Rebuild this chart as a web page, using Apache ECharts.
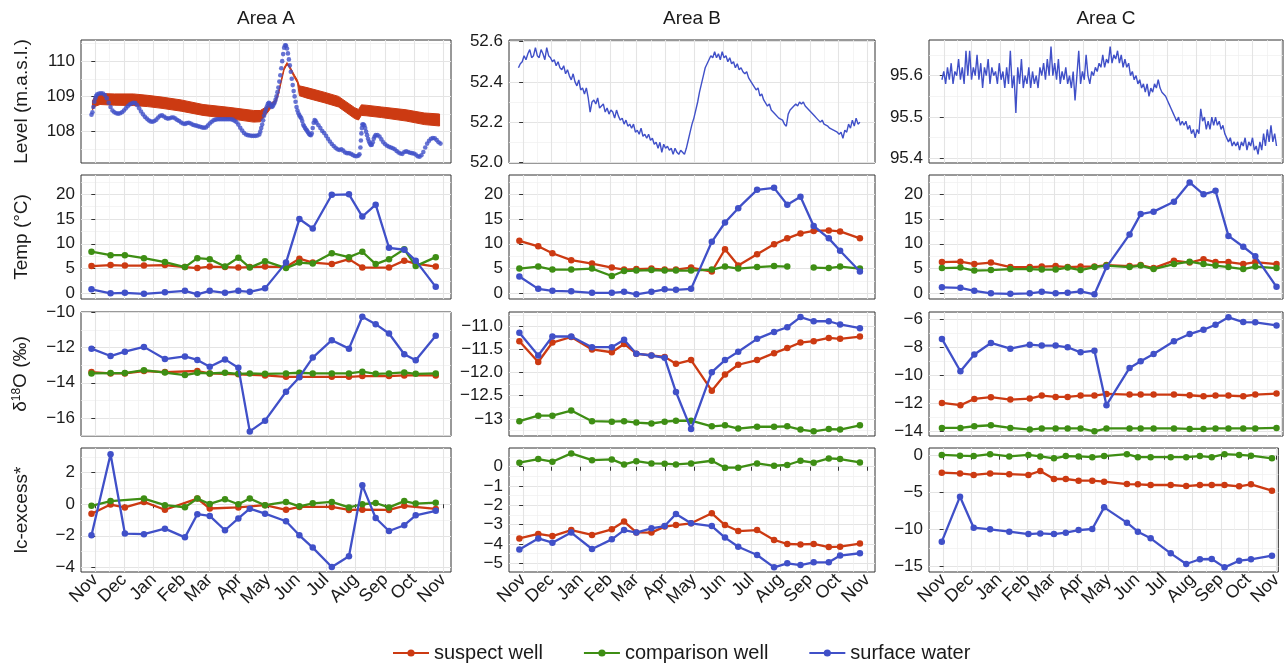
<!DOCTYPE html>
<html>
<head>
<meta charset="utf-8">
<script src="https://cdn.jsdelivr.net/npm/echarts@6/dist/echarts.min.js"></script>
<style>
  html, body { margin: 0; padding: 0; background: #ffffff; }
  #chart { width: 1285px; height: 663px; }
</style>
</head>
<body>
<div id="chart"></div>
<script>
// ---------------------------------------------------------------------------
// Data
// ---------------------------------------------------------------------------
const seriesNames = ['suspect well', 'comparison well', 'surface water'];
const areaNames = ['Area A', 'Area B', 'Area C'];
const monthLabels = ['Nov', 'Dec', 'Jan', 'Feb', 'Mar', 'Apr', 'May', 'Jun', 'Jul', 'Aug', 'Sep', 'Oct', 'Nov'];
const monthStarts = ['2018-11-01', '2018-12-01', '2019-01-01', '2019-02-01', '2019-03-01', '2019-04-01',
  '2019-05-01', '2019-06-01', '2019-07-01', '2019-08-01', '2019-09-01', '2019-10-01', '2019-11-01'];
// time window shown in each column (A, B, C)
const xLimits = [['2018-10-17', '2019-11-09'], ['2018-10-17', '2019-11-09'], ['2018-10-16', '2019-11-03']];

// sampling campaigns
const sampleDatesAB = ['2018-10-28', '2018-11-17', '2018-12-02', '2018-12-22', '2019-01-13', '2019-02-03',
  '2019-02-16', '2019-03-01', '2019-03-17', '2019-03-31', '2019-04-12', '2019-04-28', '2019-05-20',
  '2019-06-03', '2019-06-17', '2019-07-07', '2019-07-25', '2019-08-08', '2019-08-22', '2019-09-05',
  '2019-09-21', '2019-10-03', '2019-10-24'];
const sampleDatesC = ['2018-10-30', '2018-11-19', '2018-12-04', '2018-12-22', '2019-01-12', '2019-02-02',
  '2019-02-15', '2019-03-02', '2019-03-15', '2019-03-29', '2019-04-13', '2019-04-26', '2019-05-21',
  '2019-06-02', '2019-06-16', '2019-07-08', '2019-07-25', '2019-08-09', '2019-08-22', '2019-09-05',
  '2019-09-21', '2019-10-04', '2019-10-27'];

// Temperature (°C)
const tempA_suspect    = [5.5, 5.7, 5.6, 5.6, 5.7, 5.3, 5.1, 5.4, 5.3, 5.2, 5.3, 5.4, 5.3, 7.0, 6.2, 5.9, 6.9, 5.2, null, 5.2, 6.6, 6.0, 5.4];
const tempA_comparison = [8.4, 7.7, 7.7, 7.1, 6.3, 5.3, 7.1, 6.9, 5.4, 7.2, 5.2, 6.5, 5.1, 6.2, 6.0, 8.1, 7.3, 8.4, 5.9, 6.9, 8.9, 5.5, 7.3];
const tempA_surface    = [0.8, 0.0, 0.1, -0.1, 0.2, 0.5, -0.2, 0.5, 0.1, 0.5, 0.3, 1.0, 6.2, 15.0, 13.1, 19.9, 20.0, 15.5, 17.9, 9.2, 8.8, 6.6, 1.3];
const tempB_suspect    = [10.6, 9.5, 8.1, 6.7, 6.0, 5.2, 4.8, 4.9, 5.0, 4.8, 4.8, 5.2, 4.4, 8.9, 5.6, 7.9, 9.9, 11.1, 12.1, 12.6, 12.7, 12.5, 11.1];
const tempB_comparison = [5.0, 5.4, 4.8, 4.8, 5.0, 3.5, 4.5, 4.6, 4.7, 4.6, 4.6, 4.6, 4.8, 5.4, 5.0, 5.3, 5.5, 5.4, null, 5.2, 5.1, 5.4, 5.0];
const tempB_surface    = [3.4, 0.9, 0.5, 0.4, 0.1, 0.1, 0.3, -0.2, 0.3, 0.8, 0.7, 0.9, 10.4, 14.3, 17.2, 20.9, 21.3, 17.9, 19.5, 13.6, 11.1, 8.6, 4.4];
const tempC_suspect    = [6.3, 6.4, 5.9, 6.2, 5.3, 5.3, 5.4, 5.5, 5.3, 5.4, 5.4, 5.7, 5.5, 5.7, 5.1, 6.6, 6.2, 6.9, 6.3, 6.3, 5.9, 6.3, 5.9];
const tempC_comparison = [5.1, 5.2, 4.6, 4.7, 4.9, 4.9, 4.8, 4.8, 5.2, 4.7, 5.3, 5.6, 5.3, 5.6, 4.9, 5.9, 6.4, 5.9, 5.6, 5.3, 4.9, 5.4, 5.1];
const tempC_surface    = [1.2, 1.1, 0.5, 0.0, -0.1, 0.0, 0.3, 0.0, 0.1, 0.4, -0.2, 5.3, 11.9, 16.0, 16.5, 18.5, 22.4, 20.0, 20.7, 11.6, 9.4, 7.5, 1.3];

// δ18O (‰)
const d18oA_suspect    = [-13.39, -13.47, -13.47, -13.33, -13.39, null, -13.33, -13.47, null, -13.52, null, -13.58, -13.66, -13.66, null, -13.66, -13.66, -13.62, null, -13.62, -13.58, null, -13.58];
const d18oA_comparison = [-13.47, -13.45, -13.45, -13.28, -13.42, -13.56, -13.43, -13.47, -13.43, -13.49, -13.47, -13.49, -13.47, -13.43, -13.47, -13.47, -13.47, -13.37, -13.49, -13.47, -13.41, -13.49, -13.47];
const d18oA_surface    = [-12.06, -12.48, -12.23, -11.96, -12.65, -12.5, -12.7, -13.09, -12.67, -13.14, -16.76, -16.15, -14.51, -13.68, -12.57, -11.58, -12.06, -10.25, -10.67, -11.2, -12.38, -12.72, -11.33];
const d18oB_suspect    = [-11.32, -11.77, -11.35, -11.23, -11.5, -11.56, -11.38, -11.59, -11.63, -11.66, -11.81, -11.73, -12.39, -12.04, -11.83, -11.73, -11.58, -11.47, -11.35, -11.32, -11.25, -11.27, -11.22];
const d18oB_comparison = [-13.05, -12.93, -12.93, -12.82, -13.05, -13.06, -13.05, -13.08, -13.1, -13.06, -13.04, -13.04, -13.16, -13.14, -13.21, -13.17, -13.17, -13.16, -13.23, -13.27, -13.22, -13.23, -13.14];
const d18oB_surface    = [-11.14, -11.63, -11.22, -11.22, -11.45, -11.45, -11.29, -11.59, -11.63, -11.68, -12.42, -13.22, -11.99, -11.73, -11.55, -11.27, -11.12, -11.02, -10.8, -10.89, -10.89, -10.96, -11.04];
const d18oC_suspect    = [-11.97, -12.13, -11.68, -11.56, -11.73, -11.66, -11.44, -11.54, -11.54, -11.44, -11.44, -11.32, -11.37, -11.37, -11.37, -11.37, -11.42, -11.49, -11.44, -11.44, -11.49, -11.37, -11.3];
const d18oC_comparison = [-13.76, -13.76, -13.64, -13.57, -13.76, -13.88, -13.8, -13.8, -13.8, -13.8, -14.0, -13.8, -13.8, -13.8, -13.8, -13.8, -13.83, -13.83, -13.8, -13.8, -13.8, -13.8, -13.76];
const d18oC_surface    = [-7.38, -9.7, -8.5, -7.67, -8.08, -7.79, -7.86, -7.86, -7.98, -8.34, -8.22, -12.13, -9.46, -8.98, -8.46, -7.55, -7.03, -6.72, -6.36, -5.83, -6.17, -6.19, -6.41];

// lc-excess* (‰)
const lcA_suspect    = [-0.6, -0.02, -0.2, 0.15, -0.35, null, 0.36, -0.27, null, -0.2, null, -0.06, -0.35, -0.17, null, -0.17, -0.36, -0.35, null, -0.36, -0.1, null, -0.3];
const lcA_comparison = [-0.1, 0.2, null, 0.36, -0.06, -0.19, 0.36, 0.02, 0.32, 0.0, 0.36, -0.06, 0.15, -0.13, 0.06, 0.15, -0.2, 0.0, 0.08, -0.2, 0.2, 0.04, 0.1];
const lcA_surface    = [-1.97, 3.17, -1.86, -1.9, -1.55, -2.1, -0.63, -0.74, -1.65, -0.9, -0.28, -0.6, -1.08, -1.97, -2.75, -3.98, -3.3, 1.2, -0.87, -1.7, -1.33, -0.7, -0.42];
const lcB_suspect    = [-3.71, -3.48, -3.59, -3.28, -3.53, -3.24, -2.84, -3.4, -3.41, -3.1, -3.02, -2.93, -2.41, -3.02, -3.33, -3.28, -3.79, -4.0, -4.02, -4.0, -4.16, -4.14, -3.98];
const lcB_comparison = [0.21, 0.4, 0.26, 0.69, 0.34, 0.38, 0.12, 0.29, 0.17, 0.16, 0.12, 0.17, 0.31, -0.05, -0.05, 0.17, 0.05, 0.09, 0.31, 0.21, 0.43, 0.4, 0.22];
const lcB_surface    = [-4.28, -3.71, -3.93, -3.41, -4.26, -3.76, -3.28, -3.41, -3.19, -3.07, -2.45, -2.93, -3.07, -3.67, -4.14, -4.57, -5.21, -5.0, -5.09, -4.95, -4.95, -4.6, -4.48];
const lcC_suspect    = [-2.3, -2.4, -2.6, -2.4, -2.5, -2.6, -2.07, -3.15, -3.15, -3.38, -3.38, -3.51, -3.83, -3.87, -3.96, -3.96, -4.1, -3.96, -3.96, -3.96, -4.14, -3.87, -4.73];
const lcC_comparison = [0.1, 0.0, -0.05, 0.2, -0.1, 0.1, -0.1, -0.36, -0.05, -0.1, -0.2, -0.05, 0.2, -0.2, -0.2, -0.2, -0.2, -0.05, -0.2, 0.2, 0.1, 0.0, -0.36];
const lcC_surface    = [-11.62, -5.54, -9.73, -9.95, -10.27, -10.59, -10.5, -10.59, -10.41, -10.05, -9.91, -6.98, -9.05, -10.27, -11.17, -13.2, -14.64, -14.0, -13.96, -15.09, -14.19, -14.0, -13.51];

// Level (m a.s.l.) — day numbers count from 1 Nov 2018
// Area A, suspect well: envelope of the logger record
const levelA_suspectDays = [-3, 0, 5, 20, 40, 55, 70, 90, 113, 140, 166, 173, 178, 184, 189, 192, 195, 198, 201, 203,
  206, 209, 212, 214, 222, 240, 255, 272, 276, 279, 284, 300, 326, 345, 361];
const levelA_suspectLow = [108.62, 108.72, 108.77, 108.75, 108.74, 108.71, 108.66, 108.58, 108.46, 108.37, 108.27, 108.28,
  108.45, 108.66, 108.8, 109.05, 109.4, 109.75, 109.9, 109.84, 109.68, 109.52, 109.38, 109.02, 108.95, 108.82, 108.7,
  108.37, 108.33, 108.46, 108.45, 108.4, 108.3, 108.2, 108.16];
const levelA_suspectHigh = [108.88, 109.0, 109.08, 109.07, 109.07, 109.03, 108.98, 108.9, 108.77, 108.69, 108.6, 108.6,
  108.68, 108.8, 108.9, 109.13, 109.47, 109.82, 109.96, 109.9, 109.75, 109.6, 109.46, 109.3, 109.25, 109.12, 109.0,
  108.68, 108.63, 108.76, 108.75, 108.7, 108.62, 108.53, 108.5];
// Area A, surface water: [day, level]
const levelA_surface = [[-4,108.48],[-3,108.55],[-2,108.7],[-1,108.85],[0,108.95],[1,109.02],[2,109.06],[4,109.08],[6,109.09],
  [8,109.08],[10,109.04],[12,108.95],[14,108.82],[16,108.7],[18,108.6],[20,108.55],[22,108.52],[24,108.51],[26,108.52],
  [28,108.55],[30,108.6],[32,108.66],[34,108.72],[36,108.77],[38,108.8],[40,108.82],[42,108.81],[44,108.75],[46,108.66],
  [48,108.57],[50,108.49],[52,108.42],[54,108.37],[56,108.32],[58,108.29],[60,108.28],[62,108.3],[64,108.34],[66,108.4],
  [68,108.45],[70,108.46],[72,108.43],[74,108.39],[76,108.37],[78,108.38],[80,108.4],[82,108.4],[84,108.37],[86,108.33],
  [88,108.3],[90,108.26],[92,108.23],[94,108.22],[96,108.24],[98,108.25],[100,108.23],[102,108.2],[104,108.18],[106,108.17],
  [108,108.15],[110,108.14],[112,108.12],[114,108.11],[116,108.12],[118,108.17],[120,108.23],[122,108.28],[124,108.32],
  [126,108.34],[128,108.35],[130,108.35],[132,108.35],[134,108.35],[136,108.35],[138,108.35],[140,108.35],[142,108.35],
  [144,108.34],[146,108.31],[148,108.27],[150,108.2],[152,108.11],[154,108.03],[156,107.96],[158,107.92],[160,107.9],
  [162,107.89],[164,107.88],[166,107.88],[168,107.88],[170,107.89],[172,107.92],[173,108.0],[174,108.1],[175,108.2],
  [176,108.32],[177,108.45],[178,108.55],[179,108.64],[180,108.72],[181,108.79],[182,108.82],[183,108.8],[184,108.74],
  [185,108.7],[186,108.72],[187,108.77],[188,108.82],[189,108.9],[190,109.0],[191,109.12],[192,109.25],[193,109.42],
  [194,109.6],[195,109.8],[196,110.0],[197,110.2],[198,110.38],[199,110.45],[200,110.44],[201,110.36],[202,110.22],
  [203,110.05],[204,109.88],[205,109.7],[206,109.5],[207,109.32],[208,109.15],[209,109.0],[210,108.85],[211,108.7],
  [212,108.6],[213,108.52],[214,108.46],[215,108.42],[216,108.38],[217,108.3],[218,108.2],[219,108.15],[220,108.1],
  [221,108.06],[222,108.03],[223,107.98],[224,107.94],[225,107.91],[226,107.9],[227,107.95],[228,108.1],[229,108.25],
  [230,108.33],[231,108.3],[232,108.25],[234,108.18],[236,108.1],[238,108.02],[240,107.96],[242,107.88],[244,107.8],
  [246,107.72],[248,107.65],[250,107.59],[252,107.54],[254,107.5],[256,107.48],[258,107.5],[260,107.46],[262,107.41],
  [264,107.39],[266,107.39],[268,107.37],[270,107.34],[272,107.31],[274,107.3],[276,107.32],[277,107.36],[278,107.55],
  [278.5,107.75],[279,107.95],[279.5,108.1],[280,108.2],[281,108.21],[282,108.18],[283,108.1],[284,108.0],[285,107.9],
  [286,107.8],[287,107.72],[288,107.66],[289,107.62],[290,107.63],[291,107.7],[292,107.8],[293,107.86],[294,107.9],
  [296,107.9],[298,107.86],[300,107.78],[302,107.7],[304,107.64],[306,107.6],[308,107.57],[310,107.55],[312,107.53],
  [314,107.5],[316,107.45],[318,107.41],[320,107.38],[322,107.37],[324,107.42],[326,107.44],[328,107.42],[330,107.4],
  [332,107.39],[334,107.38],[336,107.35],[338,107.3],[340,107.29],[342,107.33],[344,107.42],[346,107.55],[348,107.66],
  [350,107.74],[352,107.8],[354,107.82],[356,107.81],[358,107.76],[360,107.7],[362,107.66]];

// Area B and C surface water loggers, one reading every second day
const levelB_start = '2018-10-27';
const levelB_surface = [
  52.47, 52.49, 52.50, 52.53, 52.51, 52.54, 52.56, 52.52, 52.53, 52.57,
  52.53, 52.52, 52.56, 52.54, 52.51, 52.57, 52.53, 52.52, 52.50, 52.51,
  52.48, 52.50, 52.47, 52.46, 52.48, 52.44, 52.46, 52.43, 52.41, 52.44,
  52.40, 52.38, 52.41, 52.36, 52.37, 52.34, 52.37, 52.32, 52.25, 52.30,
  52.31, 52.29, 52.32, 52.27, 52.28, 52.29, 52.25, 52.27, 52.24, 52.26,
  52.25, 52.22, 52.26, 52.23, 52.21, 52.22, 52.19, 52.21, 52.18, 52.19,
  52.17, 52.19, 52.15, 52.16, 52.14, 52.17, 52.13, 52.14, 52.12, 52.14,
  52.11, 52.12, 52.09, 52.10, 52.07, 52.10, 52.05, 52.09, 52.07, 52.08,
  52.06, 52.07, 52.04, 52.07, 52.05, 52.04, 52.06, 52.05, 52.04, 52.07,
  52.11, 52.15, 52.19, 52.22, 52.26, 52.30, 52.35, 52.39, 52.43, 52.47,
  52.49, 52.51, 52.53, 52.52, 52.55, 52.52, 52.54, 52.51, 52.55, 52.52,
  52.53, 52.50, 52.52, 52.49, 52.50, 52.47, 52.49, 52.46, 52.47, 52.45,
  52.44, 52.45, 52.42, 52.42, 52.39, 52.39, 52.36, 52.37, 52.33, 52.34,
  52.31, 52.31, 52.28, 52.29, 52.26, 52.26, 52.24, 52.24, 52.22, 52.22,
  52.21, 52.19, 52.18, 52.24, 52.26, 52.27, 52.28, 52.29, 52.28, 52.30,
  52.29, 52.30, 52.28, 52.28, 52.26, 52.25, 52.24, 52.23, 52.22, 52.22,
  52.20, 52.21, 52.19, 52.19, 52.18, 52.17, 52.17, 52.16, 52.16, 52.15,
  52.14, 52.15, 52.12, 52.16, 52.15, 52.19, 52.17, 52.21, 52.18, 52.22,
  52.19, 52.20];
const levelC_start = '2018-10-30';
const levelC_surface = [
  95.59, 95.61, 95.58, 95.62, 95.59, 95.63, 95.58, 95.61, 95.60, 95.64,
  95.59, 95.62, 95.58, 95.66, 95.60, 95.66, 95.59, 95.62, 95.60, 95.65,
  95.59, 95.63, 95.57, 95.62, 95.60, 95.64, 95.58, 95.62, 95.60, 95.61,
  95.58, 95.63, 95.59, 95.61, 95.57, 95.62, 95.58, 95.66, 95.57, 95.60,
  95.51, 95.62, 95.58, 95.64, 95.57, 95.60, 95.58, 95.62, 95.57, 95.61,
  95.58, 95.60, 95.57, 95.62, 95.60, 95.63, 95.59, 95.64, 95.60, 95.67,
  95.60, 95.63, 95.59, 95.64, 95.58, 95.61, 95.59, 95.62, 95.58, 95.60,
  95.57, 95.61, 95.54, 95.60, 95.66, 95.58, 95.61, 95.59, 95.65, 95.60,
  95.58, 95.61, 95.60, 95.62, 95.61, 95.63, 95.62, 95.65, 95.62, 95.64,
  95.63, 95.67, 95.63, 95.65, 95.64, 95.66, 95.63, 95.65, 95.62, 95.64,
  95.62, 95.63, 95.60, 95.61, 95.59, 95.60, 95.58, 95.59, 95.57, 95.58,
  95.56, 95.58, 95.55, 95.57, 95.56, 95.58, 95.57, 95.59, 95.57, 95.56,
  95.56, 95.55, 95.54, 95.53, 95.52, 95.51, 95.50, 95.49, 95.50, 95.48,
  95.49, 95.48, 95.49, 95.47, 95.48, 95.46, 95.47, 95.45, 95.47, 95.46,
  95.52, 95.49, 95.50, 95.47, 95.49, 95.47, 95.50, 95.48, 95.50, 95.48,
  95.49, 95.47, 95.48, 95.46, 95.46, 95.44, 95.45, 95.43, 95.44, 95.43,
  95.44, 95.42, 95.44, 95.43, 95.45, 95.42, 95.44, 95.43, 95.45, 95.42,
  95.43, 95.41, 95.44, 95.42, 95.46, 95.43, 95.47, 95.44, 95.48, 95.44,
  95.46, 95.43];
const levelStepDays = 2;

// Axis titles and per-panel y scales (rows: level, temp, δ18O, lc-excess; columns: A, B, C)
const rowTitles = ['Level (m.a.s.l.)', 'Temp (°C)', '{t|δ}{s|18}{t|O (‰)}', 'lc-excess*'];
const yScales = [
  [{ min: 107.11, max: 110.6, ticks: [108, 109, 110], labels: ['108', '109', '110'] },
   { min: 51.997, max: 52.608, ticks: [52.0, 52.2, 52.4, 52.6], labels: ['52.0', '52.2', '52.4', '52.6'] },
   { min: 95.389, max: 95.686, ticks: [95.4, 95.5, 95.6], labels: ['95.4', '95.5', '95.6'] }],
  [{ min: -1.15, max: 23.9, ticks: [0, 5, 10, 15, 20], labels: ['0', '5', '10', '15', '20'] },
   { min: -1.15, max: 23.9, ticks: [0, 5, 10, 15, 20], labels: ['0', '5', '10', '15', '20'] },
   { min: -1.15, max: 23.9, ticks: [0, 5, 10, 15, 20], labels: ['0', '5', '10', '15', '20'] }],
  [{ min: -17.02, max: -9.98, ticks: [-16, -14, -12, -10], labels: ['\u221216', '\u221214', '\u221212', '\u221210'] },
   { min: -13.37, max: -10.69, ticks: [-13, -12.5, -12, -11.5, -11], labels: ['\u221213', '\u221212.5', '\u221212.0', '\u221211.5', '\u221211.0'] },
   { min: -14.34, max: -5.45, ticks: [-14, -12, -10, -8, -6], labels: ['\u221214', '\u221212', '\u221210', '\u22128', '\u22126'] }],
  [{ min: -4.3, max: 3.57, ticks: [-4, -2, 0, 2], labels: ['\u22124', '\u22122', '0', '2'] },
   { min: -5.45, max: 0.97, ticks: [-5, -4, -3, -2, -1, 0], labels: ['\u22125', '\u22124', '\u22123', '\u22122', '\u22121', '0'] },
   { min: -15.72, max: 1.04, ticks: [-15, -10, -5, 0], labels: ['\u221215', '\u221210', '\u22125', '0'] }]
];

const samples = [
  null,
  [[tempA_suspect, tempA_comparison, tempA_surface], [tempB_suspect, tempB_comparison, tempB_surface], [tempC_suspect, tempC_comparison, tempC_surface]],
  [[d18oA_suspect, d18oA_comparison, d18oA_surface], [d18oB_suspect, d18oB_comparison, d18oB_surface], [d18oC_suspect, d18oC_comparison, d18oC_surface]],
  [[lcA_suspect, lcA_comparison, lcA_surface], [lcB_suspect, lcB_comparison, lcB_surface], [lcC_suspect, lcC_comparison, lcC_surface]]
];
const sampleDates = [sampleDatesAB, sampleDatesAB, sampleDatesC];

// ---------------------------------------------------------------------------
// Styling and layout
// ---------------------------------------------------------------------------
const FONT = '"Liberation Sans", Arial, Helvetica, sans-serif';
const TEXT = '#1a1a1a';
const COLORS = ['#CC3A12', '#3E8E14', '#4050C8'];
const GRID_MAJOR = '#E4E4E4';
const GRID_MINOR = '#EFEFEF';
const BORDER = '#333333';
const TICK_FONT = 17;
const TITLE_FONT = 19;

const colLeft = [81, 509, 929];
const colWidth = [370, 366, 354];
const rowTop = [40, 175, 312, 448];
const rowHeight = [123, 124, 124, 124];

const DAY0 = Date.UTC(2018, 10, 1);
const toDay = s => (Date.UTC(+s.slice(0, 4), +s.slice(5, 7) - 1, +s.slice(8, 10)) - DAY0) / 86400000;

const monthDays = monthStarts.map(toDay);
const midMonthDays = monthDays.slice(1).map((d, i) => (d + monthDays[i]) / 2);

function minorOf(ticks, min, max) {
  const step = ticks.length > 1 ? ticks[1] - ticks[0] : 1;
  const out = [];
  for (let i = -1; i < ticks.length; i++) {
    const v = ticks[0] + (i + 0.5) * step;
    if (v > min && v < max) out.push(v);
  }
  return out;
}
function labelFor(ticks, labels) {
  return v => {
    let best = 0;
    ticks.forEach((t, i) => { if (Math.abs(t - v) < Math.abs(ticks[best] - v)) best = i; });
    return labels[best];
  };
}
function monthLabel(v) {
  let best = 0;
  monthDays.forEach((t, i) => { if (Math.abs(t - v) < Math.abs(monthDays[best] - v)) best = i; });
  return monthLabels[best];
}

const grids = [], xAxes = [], yAxes = [], series = [];
const levelAxes = [];

for (let r = 0; r < 4; r++) {
  for (let c = 0; c < 3; c++) {
    const g = grids.length;
    const xMin = toDay(xLimits[c][0]);
    const xMax = toDay(xLimits[c][1]);
    grids.push({
      left: colLeft[c], top: rowTop[r], width: colWidth[c], height: rowHeight[r],
      show: true, backgroundColor: '#ffffff', borderColor: BORDER, borderWidth: 1, containLabel: false
    });
    const bottomRow = r === 3;
    const xi = xAxes.length;
    xAxes.push({
      type: 'value', gridIndex: g, min: xMin, max: xMax, position: 'bottom',
      axisLine: { show: false },
      axisTick: { show: bottomRow, customValues: monthDays, length: 4, lineStyle: { color: BORDER, width: 1 } },
      axisLabel: { show: bottomRow, customValues: monthDays, formatter: monthLabel, rotate: 45, margin: 5,
        fontSize: 18, color: TEXT, fontFamily: FONT },
      splitLine: { show: true, lineStyle: { color: GRID_MAJOR, width: 1.1 } }
    });
    xAxes.push({
      type: 'value', gridIndex: g, min: xMin, max: xMax, position: 'top',
      axisLine: { show: false },
      axisTick: { show: false, customValues: midMonthDays },
      axisLabel: { show: false, customValues: midMonthDays },
      splitLine: { show: true, lineStyle: { color: GRID_MINOR, width: 0.7 } }
    });
    const sc = yScales[r][c];
    const yi = yAxes.length;
    const yMain = {
      type: 'value', gridIndex: g, min: sc.min, max: sc.max, position: 'left',
      axisLine: { show: false },
      axisTick: { show: true, customValues: sc.ticks, length: 4, lineStyle: { color: BORDER, width: 1 } },
      axisLabel: { show: true, customValues: sc.ticks, formatter: labelFor(sc.ticks, sc.labels), margin: 6,
        fontSize: TICK_FONT, color: TEXT, fontFamily: FONT },
      splitLine: { show: true, lineStyle: { color: GRID_MAJOR, width: 1.1 } }
    };
    if (c === 0) {
      Object.assign(yMain, {
        name: rowTitles[r], nameLocation: 'middle', nameGap: 50, nameRotate: 90,
        nameTextStyle: {
          fontSize: TITLE_FONT, color: TEXT, fontFamily: FONT,
          rich: {
            t: { fontSize: TITLE_FONT, color: TEXT, fontFamily: FONT },
            s: { fontSize: 12, color: TEXT, fontFamily: FONT, padding: [0, 0, 8, 0] }
          }
        }
      });
    }
    yAxes.push(yMain);
    const minor = minorOf(sc.ticks, sc.min, sc.max);
    yAxes.push({
      type: 'value', gridIndex: g, min: sc.min, max: sc.max, position: 'right',
      axisLine: { show: false },
      axisTick: { show: false, customValues: minor },
      axisLabel: { show: false, customValues: minor },
      splitLine: { show: true, lineStyle: { color: GRID_MINOR, width: 0.7 } }
    });

    if (r === 0) {
      levelAxes.push({ xi, yi });
      continue;
    }
    const vals = samples[r][c];
    const dates = sampleDates[c].map(toDay);
    seriesNames.forEach((name, k) => {
      const gapped = (r === 1 && c === 1 && k === 1);
      series.push({
        type: 'line', name, xAxisIndex: xi, yAxisIndex: yi,
        data: dates.map((d, i) => [d, vals[k][i] === null ? '-' : vals[k][i]]),
        connectNulls: !gapped,
        symbol: 'circle', symbolSize: 6.5, showSymbol: true,
        lineStyle: { width: 2.3, color: COLORS[k] },
        itemStyle: { color: COLORS[k] },
        emphasis: { disabled: true },
        z: 2 + k
      });
    });
  }
}

// Level row
const [axA, axB, axC] = levelAxes;
// suspect-well logger band: one polygon between the low and high envelopes
series.push({
  type: 'custom', name: 'suspect well logger', xAxisIndex: axA.xi, yAxisIndex: axA.yi,
  data: levelA_suspectDays.map((d, i) => [d, levelA_suspectLow[i], levelA_suspectHigh[i]]),
  encode: { x: 0, y: [1, 2] },
  clip: true, silent: true, z: 2,
  renderItem: (params, api) => {
    if (params.dataIndex !== 0) return null;
    const upper = levelA_suspectDays.map((d, i) => api.coord([d, levelA_suspectHigh[i]]));
    const lower = levelA_suspectDays.map((d, i) => api.coord([d, levelA_suspectLow[i]])).reverse();
    return {
      type: 'polygon',
      shape: { points: upper.concat(lower) },
      style: { fill: COLORS[0], stroke: COLORS[0], lineWidth: 1 }
    };
  }
});
series.push({
  type: 'scatter', name: 'surface water logger', xAxisIndex: axA.xi, yAxisIndex: axA.yi,
  data: levelA_surface, symbol: 'circle', symbolSize: 4.6,
  itemStyle: { color: COLORS[2] }, emphasis: { disabled: true }, silent: true, z: 4
});
series.push({
  type: 'line', name: 'surface water logger', xAxisIndex: axB.xi, yAxisIndex: axB.yi,
  data: levelB_surface.map((v, i) => [toDay(levelB_start) + i * levelStepDays, v]),
  symbol: 'none', lineStyle: { width: 1.4, color: COLORS[2] }, emphasis: { disabled: true }, silent: true, z: 4
});
series.push({
  type: 'line', name: 'surface water logger', xAxisIndex: axC.xi, yAxisIndex: axC.yi,
  data: levelC_surface.map((v, i) => [toDay(levelC_start) + i * levelStepDays, v]),
  symbol: 'none', lineStyle: { width: 1.4, color: COLORS[2] }, emphasis: { disabled: true }, silent: true, z: 4
});

const titles = areaNames.map((name, c) => ({
  type: 'text', x: colLeft[c] + colWidth[c] / 2, y: 19,
  style: { text: name, font: TITLE_FONT + 'px ' + FONT, fill: TEXT, textAlign: 'center', textVerticalAlign: 'middle' }
}));

const chart = echarts.init(document.getElementById('chart'), null, { renderer: 'canvas' });
chart.setOption({
  animation: false,
  backgroundColor: '#ffffff',
  textStyle: { fontFamily: FONT },
  color: COLORS,
  grid: grids,
  xAxis: xAxes,
  yAxis: yAxes,
  series,
  graphic: titles,
  legend: {
    data: seriesNames, left: 392, top: 643, padding: 0,
    itemWidth: 36, itemHeight: 9, itemGap: 40,
    textStyle: { fontSize: 20, color: TEXT, fontFamily: FONT },
    selectedMode: false
  }
});
</script>
</body>
</html>
